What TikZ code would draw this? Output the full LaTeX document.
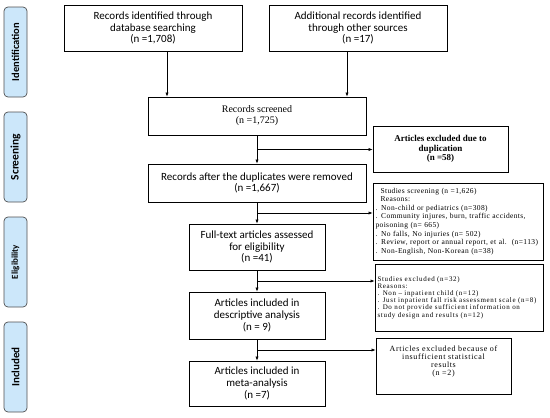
\documentclass[tikz,border=0pt]{standalone}
\usepackage{fontspec}
\setmainfont{Liberation Serif}
\setsansfont{Carlito}
\usetikzlibrary{arrows.meta,calc}
\definecolor{phasefill}{HTML}{CCE7FA}
\definecolor{phaseline}{HTML}{505050}

\begin{document}
\begin{tikzpicture}[x=1pt, y=-1pt,
  box/.style={draw, line width=0.8pt, align=center, inner sep=3pt, font=\sffamily\fontsize{11}{11.6}\selectfont},
  note/.style={draw, line width=0.8pt, align=left, inner xsep=2.5pt, font=\fontsize{7.5}{8.6}\selectfont\addfontfeatures{LetterSpace=5}},
  phase/.style={draw=phaseline, fill=phasefill, line width=0.7pt, rounded corners=4pt, rotate=90, minimum width=90pt, minimum height=23pt, inner sep=1pt},
  arr/.style={-{Latex[length=4pt,width=3.2pt]}, line width=0.6pt}]
\useasboundingbox (0,0) rectangle (550,418);

% Phases - left column
\node[phase, font=\bfseries\sffamily\fontsize{10.5}{12}\selectfont] (p1) at (15.5,52) {Identification};
\node[phase, font=\bfseries\sffamily\fontsize{11.5}{12}\selectfont] (p2) at (15.5,157) {Screening};
\node[phase, font=\bfseries\sffamily\fontsize{9}{11}\selectfont] (p3) at (15.5,262) {Eligibility};
\node[phase, font=\bfseries\sffamily\fontsize{11}{12}\selectfont] (p4) at (15.5,367) {Included};

% Main flow
\node[box, minimum width=178pt, minimum height=46pt] (id1) at (153,28) {Records identified through\\database searching\\(n =1,708)};
\node[box, minimum width=178pt, minimum height=46pt] (id2) at (358,28) {Additional records identified\\through other sources\\(n =17)};
\node[box, minimum width=218pt, minimum height=38pt, font=\fontsize{10}{11}\selectfont] (scr) at (257,116) {Records screened\\(n =1,725)};
\node[box, minimum width=218pt, minimum height=38pt] (rem) at (257,183) {Records after the duplicates were removed\\(n =1,667)};
\node[box, minimum width=136pt, minimum height=46pt] (full) at (257,247) {Full-text articles assessed\\for eligibility\\(n =41)};
\node[box, minimum width=136pt, minimum height=47pt] (desc) at (257,315.5) {Articles included in\\descriptive analysis\\(n = 9)};
\node[box, minimum width=136pt, minimum height=45pt] (meta) at (257,383.5) {Articles included in\\meta-analysis\\(n =7)};

% Excluded - right column
\node[box, minimum width=135pt, minimum height=46pt, font=\bfseries\fontsize{9}{9.5}\selectfont] (dup) at (440.5,149) {Articles excluded due to\\duplication\\(n =58)};
\node[note, text width=165pt, minimum height=77pt] (ex1) at (458,221.5) {\hspace{5pt}Studies screening (n =1,626)\\\hspace{5pt}Reasons:\\. Non-child or pediatrics (n=308)\\. Community injures, burn, traffic accidents,\\poisoning (n= 665)\\. No falls, No injuries (n= 502)\\. Review, report or annual report, et al.\ \ (n=113)\\. Non-English, Non-Korean (n=38)};
\node[note, text width=163pt, minimum height=67pt, font=\fontsize{7}{7.2}\selectfont\addfontfeatures{LetterSpace=10}] (ex2) at (459,297.5) {Studies excluded (n=32)\\Reasons:\\. Non -- inpatient child (n=12)\\. Just inpatient fall risk assessment scale (n=8)\\. Do not provide sufficient information on\\study design and results (n=12)};
\node[box, minimum width=135pt, minimum height=55pt, inner ysep=7.4pt, text depth=12pt, font=\fontsize{8}{7.8}\selectfont\addfontfeatures{LetterSpace=8}] (ex3) at (443.5,366.5) {Articles excluded because of\\insufficient statistical\\results\\(n =2)};

% Arrows
\draw[arr] ([xshift=14pt]id1.south) -- ([xshift=14pt]id1.south |- scr.north);
\draw[arr] ([xshift=-11pt]id2.south) -- ([xshift=-11pt]id2.south |- scr.north);
\draw[arr] (scr) -- (rem);
\draw[arr] (rem) -- (full);
\draw[arr] (full) -- (desc);
\draw[arr] (desc) -- (meta);

% Branches to excluded
\coordinate (b1) at ($(scr.south)!0.5!(rem.north)$);
\coordinate (b2) at ($(rem.south)!0.5!(full.north)$);
\coordinate (b3) at ($(full.south)!0.5!(desc.north)$);
\coordinate (b4) at ($(desc.south)!0.5!(meta.north)$);
\draw[arr] (b1) -- (b1 -| dup.west);
\draw[arr] (b2) -- (b2 -| ex1.west);
\draw[arr] (b3) -- (b3 -| ex2.west);
\draw[arr] (b4) -- (b4 -| ex3.west);
\end{tikzpicture}
\end{document}
